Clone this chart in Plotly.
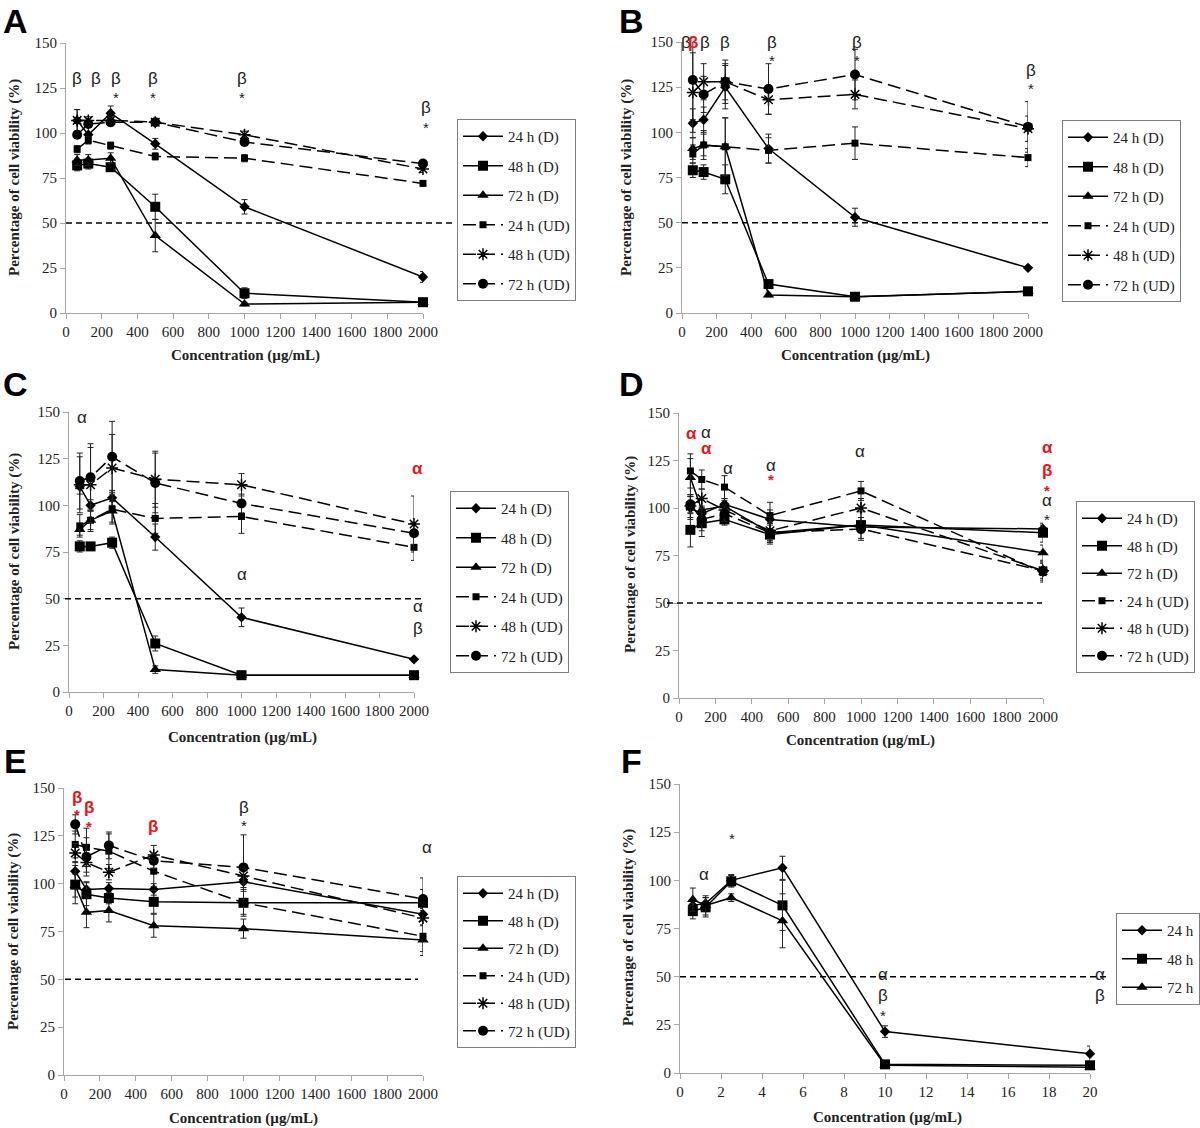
import plotly.graph_objects as go

W, H = 1200, 1128

# ---------------- data ----------------
conc = [62.5, 125, 250, 500, 1000, 2000]
conc_F = [0.625, 1.25, 2.5, 5, 10, 20]
x_ticks_AE = [0, 200, 400, 600, 800, 1000, 1200, 1400, 1600, 1800, 2000]
x_ticks_F = [0, 2, 4, 6, 8, 10, 12, 14, 16, 18, 20]
y_ticks = [0, 25, 50, 75, 100, 125, 150]
names_6 = ["24 h (D)", "48 h (D)", "72 h (D)", "24 h (UD)", "48 h (UD)", "72 h (UD)"]
names_F = ["24 h", "48 h", "72 h"]
threshold = 50

# Panel A
A_24D = [107, 99, 111, 94, 59, 20];    A_24D_err = [6, 5, 4, 3, 4, 3]
A_48D = [82, 83, 81, 59, 11, 6];       A_48D_err = [3, 3, 2, 7, 3, 1]
A_72D = [85, 85, 86, 43, 5, 6];        A_72D_err = [3, 3, 3, 9, 1, 1]
A_24UD = [91, 96, 93, 87, 86, 72];     A_24UD_err = [2, 2, 2, 2, 2, 1]
A_48UD = [107, 107, 107, 106, 99, 80]; A_48UD_err = [6, 2, 2, 1, 2, 2]
A_72UD = [99, 105, 106, 106, 95, 83];  A_72UD_err = [2, 2, 2, 1, 2, 1]

# Panel B
B_24D = [105, 107, 125, 91, 53, 25];   B_24D_err = [8, 7, 12, 8, 5, 1]
B_48D = [79, 78, 74, 16, 9, 12];       B_48D_err = [4, 4, 8, 2, 1, 1]
B_72D = [91, 93, 92, 10, 9, 12];       B_72D_err = [6, 6, 16, 1, 1, 1]
B_24UD = [88, 93, 92, 90, 94, 86];     B_24UD_err = [5, 8, 16, 7, 9, 5]
B_48UD = [122, 128, 128, 118, 121, 102]; B_48UD_err = [22, 10, 12, 8, 8, 7]
B_72UD = [129, 121, 128, 124, 132, 103]; B_72UD_err = [22, 10, 10, 14, 14, 14]

# Panel C
C_24D = [110, 100, 104, 83, 40, 17.5]; C_24D_err = [4, 3, 4, 7, 5, 1]
C_48D = [78, 78, 80, 26, 9, 9];        C_48D_err = [3, 2, 3, 4, 1, 1]
C_72D = [87, 92, 97, 12, 9, 9];        C_72D_err = [3, 5, 6, 2, 1, 1]
C_24UD = [89, 92, 98, 93, 94, 77.5];   C_24UD_err = [6, 6, 8, 8, 9, 7]
C_48UD = [111, 111, 120, 114, 111, 90]; C_48UD_err = [15, 20, 18, 15, 6, 15]
C_72UD = [113, 115, 126, 112, 101, 85]; C_72UD_err = [15, 18, 19, 16, 5, 6]

# Panel D
D_24D = [100, 97, 102, 94, 90, 89];    D_24D_err = [6, 4, 3, 5, 3, 2]
D_48D = [88.5, 92, 94, 86, 91, 87];    D_48D_err = [9, 7, 3, 5, 7, 5]
D_72D = [116, 99, 101, 87, 91, 76.5];  D_72D_err = [10, 6, 3, 5, 4, 4]
D_24UD = [119.5, 115, 111, 96, 109, 66]; D_24UD_err = [9, 5, 6, 7, 5, 5]
D_48UD = [101, 105, 99, 88, 100, 67];  D_48UD_err = [6, 5, 3, 5, 5, 4]
D_72UD = [102, 94, 97, 87, 89, 67];    D_72UD_err = [5, 6, 4, 5, 6, 5]

# Panel E
E_24D = [106.5, 97, 97.5, 97, 101, 84]; E_24D_err = [5, 4, 3, 3, 3, 3]
E_48D = [99.5, 94.5, 92.5, 90.5, 90, 90]; E_48D_err = [10, 6, 3, 6, 7, 7]
E_72D = [99, 85, 86, 78, 76.5, 70.5];  E_72D_err = [6, 8, 6, 6, 5, 8]
E_24UD = [120.5, 119, 117, 106.5, 90, 72.5]; E_24UD_err = [7, 10, 9, 8, 6, 8]
E_48UD = [116, 111, 106, 115, 104, 82]; E_48UD_err = [5, 5, 4, 5, 4, 4]
E_72UD = [131, 114, 120, 112, 108.5, 92]; E_72UD_err = [5, 10, 7, 4, 17, 11]

# Panel F
F_24 = [87, 88, 100, 106.5, 21.5, 10]; F_24_err = [3, 3, 3, 6, 3, 4]
F_48 = [84, 86, 99.5, 87, 4.5, 4];     F_48_err = [4, 5, 3, 13, 1, 2]
F_72 = [90, 87, 91, 79, 4, 3];         F_72_err = [6, 5, 2, 14, 1, 1]

# significance marks: (x, y, text, colour) in data units
A_marks = [(62.5, 130.5, "β", "black"), (170, 130.5, "β", "black"), (280, 130.5, "β", "black"),
           (490, 130.5, "β", "black"), (985, 130.5, "β", "black"), (2017, 114, "β", "black"),
           (280, 120, "*", "black"), (490, 120, "*", "black"), (985, 120, "*", "black"),
           (2017, 103, "*", "black")]
B_marks = [(25, 150, "β", "black"), (62, 150, "β", "red"), (135, 150, "β", "black"),
           (248, 150, "β", "black"), (520, 150, "β", "black"), (1012, 150, "β", "black"),
           (2017, 134, "β", "black"), (520, 140, "*", "black"), (1012, 140, "*", "black"),
           (2017, 124, "*", "black")]
C_marks = [(75, 147, "α", "black"), (1003, 63, "α", "black"), (2023, 120, "α", "red"),
           (2023, 46, "α", "black"), (2023, 34, "β", "black")]
D_marks = [(70, 139, "α", "red"), (150, 140, "α", "black"), (150, 131.5, "α", "red"),
           (268, 120.7, "α", "black"), (505, 122.5, "α", "black"), (505, 115, "*", "red"),
           (995, 130, "α", "black"), (2022, 132, "α", "red"), (2022, 120, "β", "red"),
           (2022, 109, "*", "red"), (2022, 104, "α", "black"), (2022, 94, "*", "black")]
E_marks = [(72, 145, "β", "red"), (72, 136, "*", "red"), (140, 140, "β", "red"),
           (140, 130, "*", "red"), (497, 130, "β", "red"), (1003, 140, "β", "black"),
           (1003, 130.5, "*", "black"), (2022, 119, "α", "black")]
F_marks = [(1.17, 103, "α", "black"), (2.54, 121.5, "*", "black"), (9.9, 51, "α", "black"),
           (9.9, 40, "β", "black"), (9.9, 30, "*", "black"), (20.5, 51, "α", "black"),
           (20.5, 40, "β", "black")]

# ---------------- styling / layout ----------------
SERIF = "Liberation Serif"
SANS = "Liberation Sans"
TXT = "#222222"
RED = "#e8141b"
AXCOL = "#a6a6a6"
styles6 = [
    dict(symbol="diamond", size=8, dash="solid"),
    dict(symbol="square", size=10, dash="solid"),
    dict(symbol="triangle-up", size=10, dash="solid"),
    dict(symbol="square", size=7, dash="13px,6px"),
    dict(symbol="asterisk-open", size=10, dash="13px,6px"),
    dict(symbol="circle", size=10, dash="13px,6px"),
]
stylesF = styles6[:3]

# pixel boxes: (left, right, top, bottom)
boxes = {
    "A": (66, 423, 43, 313),
    "B": (682, 1028, 42, 313),
    "C": (69, 414, 412, 692),
    "D": (679, 1043, 413, 698),
    "E": (64, 423, 788, 1075),
    "F": (680, 1090, 784, 1073),
}
legend_pos = {"A": (457, 119), "B": (1062, 120), "C": (450, 491),
              "D": (1076, 501), "E": (457, 876), "F": (1116, 913)}
legend_gap = {"A": 7, "B": 7, "C": 7, "D": 5, "E": 5, "F": 6}
thr_ext = {"A": (66, 455), "B": (682, 1050), "C": (65, 422),
           "D": (667, 1042), "E": (65, 418), "F": (680, 1110)}
letters = {"A": (15, 21), "B": (632, 21), "C": (15, 384), "D": (631, 384),
           "E": (15, 761), "F": (632, 761)}
ytitle_pos = {"A": (15, 178), "B": (627, 178), "C": (15, 552), "D": (630, 555),
              "E": (13, 932), "F": (628, 928)}
xtitle_pos = {"A": (245, 356), "B": (855, 356), "C": (242, 737), "D": (860, 740),
              "E": (243, 1118), "F": (887, 1117)}

panels = {
    "A": ([A_24D, A_48D, A_72D, A_24UD, A_48UD, A_72UD],
          [A_24D_err, A_48D_err, A_72D_err, A_24UD_err, A_48UD_err, A_72UD_err], A_marks),
    "B": ([B_24D, B_48D, B_72D, B_24UD, B_48UD, B_72UD],
          [B_24D_err, B_48D_err, B_72D_err, B_24UD_err, B_48UD_err, B_72UD_err], B_marks),
    "C": ([C_24D, C_48D, C_72D, C_24UD, C_48UD, C_72UD],
          [C_24D_err, C_48D_err, C_72D_err, C_24UD_err, C_48UD_err, C_72UD_err], C_marks),
    "D": ([D_24D, D_48D, D_72D, D_24UD, D_48UD, D_72UD],
          [D_24D_err, D_48D_err, D_72D_err, D_24UD_err, D_48UD_err, D_72UD_err], D_marks),
    "E": ([E_24D, E_48D, E_72D, E_24UD, E_48UD, E_72UD],
          [E_24D_err, E_48D_err, E_72D_err, E_24UD_err, E_48UD_err, E_72UD_err], E_marks),
    "F": ([F_24, F_48, F_72], [F_24_err, F_48_err, F_72_err], F_marks),
}


def paper(px, py):
    return px / W, 1 - py / H


fig = go.Figure()
layout = dict(width=W, height=H,
              margin=dict(l=0, r=0, t=0, b=0, pad=0, autoexpand=False),
              plot_bgcolor="white", paper_bgcolor="white", showlegend=True)
annotations = []
shapes = []

for idx, key in enumerate(["A", "B", "C", "D", "E", "F"], start=1):
    sfx = "" if idx == 1 else str(idx)
    vals, errs, marks = panels[key]
    isF = key == "F"
    xs = conc_F if isF else conc
    xmax = 20 if isF else 2000
    names = names_F if isF else names_6
    sty = stylesF if isF else styles6
    legname = "legend" + sfx
    for i, (v, e) in enumerate(zip(vals, errs)):
        s = sty[i]
        fig.add_trace(go.Scatter(
            x=xs, y=v, name=names[i], mode="lines+markers",
            xaxis="x" + sfx, yaxis="y" + sfx, legend=legname,
            legendgroup=f"{key}{i}", cliponaxis=False,
            line=dict(color="black", width=1.5, dash=s["dash"]),
            marker=dict(symbol=s["symbol"], size=s["size"], color="black",
                        line=dict(color="black", width=1.5 if "asterisk" in s["symbol"] else 0)),
            error_y=dict(type="data", array=e, visible=True, color=TXT,
                         thickness=1, width=3),
        ))
    l, r, t, b = boxes[key]
    ax_common = dict(showline=True, linecolor=AXCOL, linewidth=1, ticks="outside",
                     tickcolor=AXCOL, ticklen=5, showgrid=False, zeroline=False,
                     automargin=False,
                     tickfont=dict(family=SERIF, size=15, color=TXT))
    layout["xaxis" + sfx] = dict(domain=[l / W, r / W], anchor="y" + sfx,
                                 range=[0, xmax],
                                 tickvals=x_ticks_F if isF else x_ticks_AE, **ax_common)
    layout["yaxis" + sfx] = dict(domain=[1 - b / H, 1 - t / H], anchor="x" + sfx,
                                 range=[0, 150], tickvals=y_ticks, **ax_common)
    lx, ly = legend_pos[key]
    layout[legname] = dict(x=lx / W, y=1 - ly / H, xanchor="left", yanchor="top",
                           xref="paper", yref="paper",
                           bordercolor="#7f7f7f", borderwidth=1, bgcolor="white",
                           font=dict(family=SERIF, size=15, color=TXT),
                           tracegroupgap=legend_gap[key], traceorder="grouped",
                           itemwidth=40)
    # 50 % threshold line
    x0p, x1p = thr_ext[key]
    shapes.append(dict(type="line", xref=f"x{sfx} domain", yref=f"y{sfx} domain",
                       x0=(x0p - l) / (r - l), x1=(x1p - l) / (r - l),
                       y0=threshold / 150, y1=threshold / 150,
                       line=dict(color="black", width=1.5, dash="6px,4px")))
    # significance marks (converted through the panel's axis scale into page position)
    for (mx, my, txt, col) in marks:
        px = l + mx / xmax * (r - l)
        py = b - my / 150 * (b - t)
        ax_, ay_ = paper(px, py)
        bold = col == "red"
        annotations.append(dict(
            x=ax_, y=ay_, xref="paper", yref="paper", showarrow=False,
            xanchor="center", yanchor="middle",
            text=f"<b>{txt}</b>" if bold else txt,
            font=dict(family=SANS, size=15 if txt == "*" else 17,
                      color=RED if col == "red" else TXT)))
    # panel letter
    ax_, ay_ = paper(*letters[key])
    annotations.append(dict(x=ax_, y=ay_, xref="paper", yref="paper",
                            xanchor="center", yanchor="middle",
                            showarrow=False, text=f"<b>{key}</b>",
                            font=dict(family=SANS, size=34, color="black")))
    # axis titles
    ax_, ay_ = paper(*ytitle_pos[key])
    annotations.append(dict(x=ax_, y=ay_, xref="paper", yref="paper",
                            xanchor="center", yanchor="middle",
                            showarrow=False, textangle=-90,
                            text="<b>Percentage of cell viability (%)</b>",
                            font=dict(family=SERIF, size=15, color=TXT)))
    ax_, ay_ = paper(*xtitle_pos[key])
    annotations.append(dict(x=ax_, y=ay_, xref="paper", yref="paper",
                            xanchor="center", yanchor="middle",
                            showarrow=False, text="<b>Concentration (µg/mL)</b>",
                            font=dict(family=SERIF, size=15, color=TXT)))

layout["annotations"] = annotations
layout["shapes"] = shapes
fig.update_layout(**layout)
fig.write_html("out.html", config={"displayModeBar": False},
               post_script="document.body.style.margin='0';document.body.style.padding='0';")
